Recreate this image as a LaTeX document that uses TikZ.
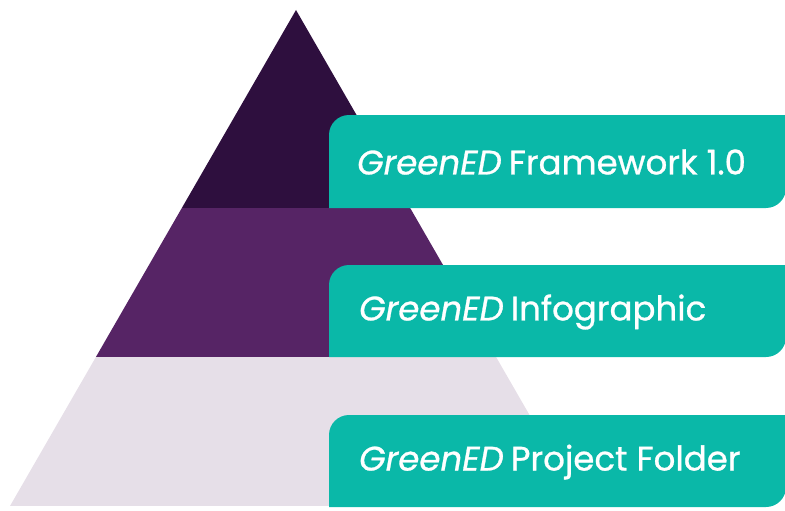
\documentclass[tikz,border=0pt]{standalone}
\usepackage{fontspec}
\setmainfont{Poppins}[FakeBold=0.8]
\definecolor{pyrTop}{HTML}{2E0F3E}
\definecolor{pyrMid}{HTML}{562465}
\definecolor{pyrBase}{HTML}{E6DFE8}
\definecolor{tealbox}{HTML}{0AB8A8}
\tikzset{
  label/.style={anchor=west, text=white, font=\fontsize{34}{38}\selectfont, inner sep=0pt},
}
\newcommand{\tabbox}[2]{%
  \fill[tealbox] (329,-#2) -- (329,-#1-20) arc[start angle=180,end angle=90,radius=20pt]
    -- (786,-#1) -- (786,-#2+20) arc[start angle=0,end angle=-90,radius=20pt] -- cycle;}
\begin{document}
\begin{tikzpicture}[x=1pt,y=1pt]
  \useasboundingbox (0,0) rectangle (785,-511);
  % pyramid bands
  \begin{scope}
    \clip (296,-10) -- (10,-506) -- (582,-506) -- cycle;
    \fill[pyrTop] (0,0) rectangle (785,-208);
    \fill[pyrMid] (0,-208) rectangle (785,-357);
    \fill[pyrBase] (0,-357) rectangle (785,-506);
  \end{scope}
  % tabs
  \tabbox{115}{208}
  \tabbox{265}{357}
  \tabbox{415}{507}
  \node[label] (t1) at (357,-162) {\textit{GreenED}\hspace{-2pt} Framework 1.0};
  \node[label] (t2) at (359,-312) {\textit{GreenED}\hspace{-2pt} Infographic};
  \node[label] (t3) at (359,-462) {\textit{GreenED}\hspace{-2pt} Project Folder};
\end{tikzpicture}
\end{document}
